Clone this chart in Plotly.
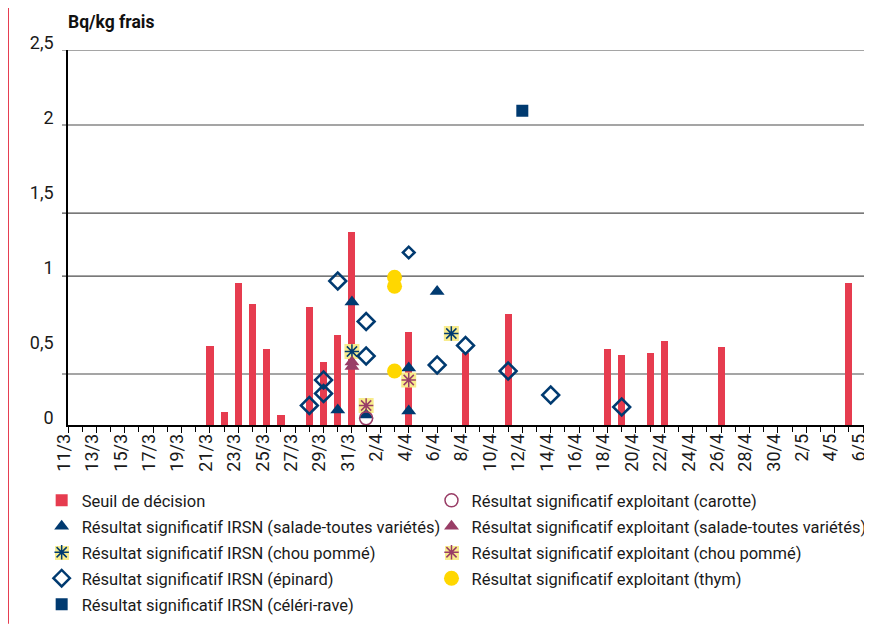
import plotly.graph_objects as go

RED = "#E63C4F"
NAVY = "#003A70"
PURPLE = "#993D66"
YELLOW = "#FFD700"
PALE_YELLOW = "#F8EC8C"
TEXT = "#1a1a1a"
FONT = "Roboto, sans-serif"

# Seuil de décision (bars)
seuil_dates = [
    "2011-03-21", "2011-03-22", "2011-03-23", "2011-03-24", "2011-03-25",
    "2011-03-26", "2011-03-28", "2011-03-29", "2011-03-30", "2011-03-31",
    "2011-04-04", "2011-04-08", "2011-04-11", "2011-04-18", "2011-04-19",
    "2011-04-21", "2011-04-22", "2011-04-26", "2011-05-05",
]
seuil_values = [
    0.53, 0.09, 0.95, 0.81, 0.51, 0.07, 0.79, 0.42, 0.60, 1.29,
    0.62, 0.48, 0.74, 0.51, 0.47, 0.48, 0.56, 0.52, 0.95,
]

irsn_salade_dates = ["2011-03-30", "2011-03-31", "2011-04-01", "2011-04-04", "2011-04-04", "2011-04-06"]
irsn_salade_values = [0.10, 0.82, 0.067, 0.38, 0.093, 0.89]

expl_salade_dates = ["2011-03-31", "2011-03-31"]
expl_salade_values = [0.42, 0.39]

irsn_chou_dates = ["2011-03-31", "2011-04-07"]
irsn_chou_values = [0.49, 0.61]

expl_chou_dates = ["2011-04-01", "2011-04-04"]
expl_chou_values = [0.13, 0.30]

irsn_epinard_dates = [
    "2011-03-28", "2011-03-29", "2011-03-29", "2011-03-30", "2011-04-01", "2011-04-01",
    "2011-04-04", "2011-04-06", "2011-04-08", "2011-04-11", "2011-04-14", "2011-04-19",
]
irsn_epinard_values = [0.13, 0.30, 0.21, 0.96, 0.69, 0.46, 1.15, 0.40, 0.53, 0.36, 0.20, 0.12]

expl_carotte_dates = ["2011-04-01"]
expl_carotte_values = [0.045]

expl_thym_dates = ["2011-04-03", "2011-04-03", "2011-04-03"]
expl_thym_values = [0.985, 0.925, 0.36]

irsn_celeri_dates = ["2011-04-12"]
irsn_celeri_values = [2.095]

y_labels = [0, 0.5, 1, 1.5, 2, 2.5]
y_label_text = ["0", "0,5", "1", "1,5", "2", "2,5"]
grid_levels = [0.34, 0.993, 1.413, 2.0, 2.5]

DAY_MS = 86400000

fig = go.Figure()

fig.add_trace(go.Bar(
    x=seuil_dates, y=seuil_values, name="Seuil de décision",
    marker=dict(color=RED, line=dict(width=0)), width=0.5 * DAY_MS,
    legend="legend", legendgroup="seuil", legendrank=1,
))

# chou pommé: pale yellow square behind an asterisk
for dates, values in [(irsn_chou_dates, irsn_chou_values), (expl_chou_dates, expl_chou_values)]:
    fig.add_trace(go.Scatter(
        x=dates, y=values, mode="markers", showlegend=False, hoverinfo="skip",
        marker=dict(symbol="square", size=15, color=PALE_YELLOW, opacity=1, line=dict(width=0)),
    ))

# left column of the legend: IRSN results
fig.add_trace(go.Scatter(
    x=irsn_salade_dates, y=irsn_salade_values, mode="markers",
    name="Résultat significatif IRSN (salade-toutes variétés)",
    legend="legend", legendgroup="irsn_salade", legendrank=2,
    marker=dict(symbol="triangle-up", size=13, color=NAVY, opacity=1),
))
fig.add_trace(go.Scatter(
    x=irsn_chou_dates, y=irsn_chou_values, mode="markers",
    name="Résultat significatif IRSN (chou pommé)",
    legend="legend", legendgroup="irsn_chou", legendrank=3,
    marker=dict(symbol="asterisk-open", size=12, color=NAVY, opacity=1, line=dict(width=1.5, color=NAVY)),
))
fig.add_trace(go.Scatter(
    x=irsn_epinard_dates, y=irsn_epinard_values, mode="markers",
    name="Résultat significatif IRSN (épinard)",
    legend="legend", legendgroup="irsn_epinard", legendrank=4,
    marker=dict(symbol="diamond-open", size=[13] * 6 + [9] + [13] * 5, opacity=1,
                color=NAVY, line=dict(width=2.5, color=NAVY)),
))
fig.add_trace(go.Scatter(
    x=irsn_celeri_dates, y=irsn_celeri_values, mode="markers",
    name="Résultat significatif IRSN (céléri-rave)",
    legend="legend", legendgroup="irsn_celeri", legendrank=5,
    marker=dict(symbol="square", size=12, color=NAVY, opacity=1),
))

# right column of the legend: exploitant results
fig.add_trace(go.Scatter(
    x=expl_carotte_dates, y=expl_carotte_values, mode="markers",
    name="Résultat significatif exploitant (carotte)",
    legend="legend2", legendgroup="expl_carotte", legendrank=1,
    marker=dict(symbol="circle-open", size=13, color=PURPLE, opacity=1, line=dict(width=1.5)),
))
fig.add_trace(go.Scatter(
    x=expl_salade_dates, y=expl_salade_values, mode="markers",
    name="Résultat significatif exploitant (salade-toutes variétés)",
    legend="legend2", legendgroup="expl_salade", legendrank=2,
    marker=dict(symbol="triangle-up", size=13, color=PURPLE, opacity=1),
))
fig.add_trace(go.Scatter(
    x=expl_chou_dates, y=expl_chou_values, mode="markers",
    name="Résultat significatif exploitant (chou pommé)",
    legend="legend2", legendgroup="expl_chou", legendrank=3,
    marker=dict(symbol="asterisk-open", size=12, color=PURPLE, opacity=1, line=dict(width=1.5, color=PURPLE)),
))
fig.add_trace(go.Scatter(
    x=expl_thym_dates, y=expl_thym_values, mode="markers",
    name="Résultat significatif exploitant (thym)",
    legend="legend2", legendgroup="expl_thym", legendrank=4,
    marker=dict(symbol="circle", size=15, color=YELLOW, opacity=1),
))

shapes = []
for g in grid_levels:
    shapes.append(dict(
        type="line", xref="paper", yref="y", x0=-0.0075, x1=1, y0=g, y1=g,
        line=dict(color="#4d4d4d", width=1.2), layer="below",
    ))
# red page rule on the left
shapes.append(dict(
    type="line", xref="paper", yref="paper", x0=-0.0752, x1=-0.0752, y0=1.12, y1=-0.53,
    line=dict(color=RED, width=2),
))
# pale yellow backing for the two "chou pommé" legend symbols
for lx in (-0.0075, 0.4812):
    shapes.append(dict(
        type="rect", xref="paper", yref="paper",
        x0=lx - 0.0088, x1=lx + 0.0088, y0=-0.3413 - 0.0187, y1=-0.3413 + 0.0187,
        fillcolor=PALE_YELLOW, line=dict(width=0),
    ))

legend_style = dict(
    orientation="v", yanchor="top", y=-0.155, xanchor="left",
    font=dict(family=FONT, size=16.5, color=TEXT),
    bgcolor="rgba(0,0,0,0)", itemsizing="trace", traceorder="grouped",
    tracegroupgap=1.5,
)

fig.update_layout(
    # the page adds an 8px body margin, so the figure is 8px smaller than the window
    width=864, height=618,
    margin=dict(l=60, r=6, t=42, b=201, autoexpand=False),
    paper_bgcolor="white", plot_bgcolor="white",
    font=dict(family=FONT, color=TEXT, size=16),
    bargap=0,
    shapes=shapes,
    showlegend=True,
    legend=dict(x=-0.033, **legend_style),
    legend2=dict(x=0.4555, **legend_style),
    annotations=[dict(
        text="<b>Bq/kg frais</b>", xref="paper", yref="paper", x=-0.002, y=1.075,
        xanchor="left", yanchor="middle", showarrow=False,
        font=dict(family=FONT, size=17.5, color="#111111"),
    )],
)

fig.update_xaxes(
    type="date",
    range=["2011-03-11", "2011-05-06 05:00"],
    tick0="2011-03-11", dtick=2 * DAY_MS, tickformat="%-d/%-m",
    tickangle=-90, ticks="outside", ticklen=6, tickcolor="black", tickwidth=1,
    minor=dict(dtick=DAY_MS, ticks="outside", ticklen=5, tickcolor="black", tickwidth=1, showgrid=False),
    showgrid=False, zeroline=False,
    showline=True, linecolor="black", linewidth=1.5,
    ticklabelstandoff=-6, ticklabelshift=-4, ticklabeloverflow="allow",
    tickfont=dict(family=FONT, size=18, color=TEXT),
)

fig.update_yaxes(
    range=[0, 2.5],
    tickmode="array", tickvals=y_labels, ticktext=y_label_text,
    ticks="", ticklabelstandoff=9, ticklabelshift=-7,
    showgrid=False, zeroline=False,
    showline=True, linecolor="black", linewidth=1.5,
    tickfont=dict(family=FONT, size=18, color=TEXT),
)

fig.write_html("out.html")
